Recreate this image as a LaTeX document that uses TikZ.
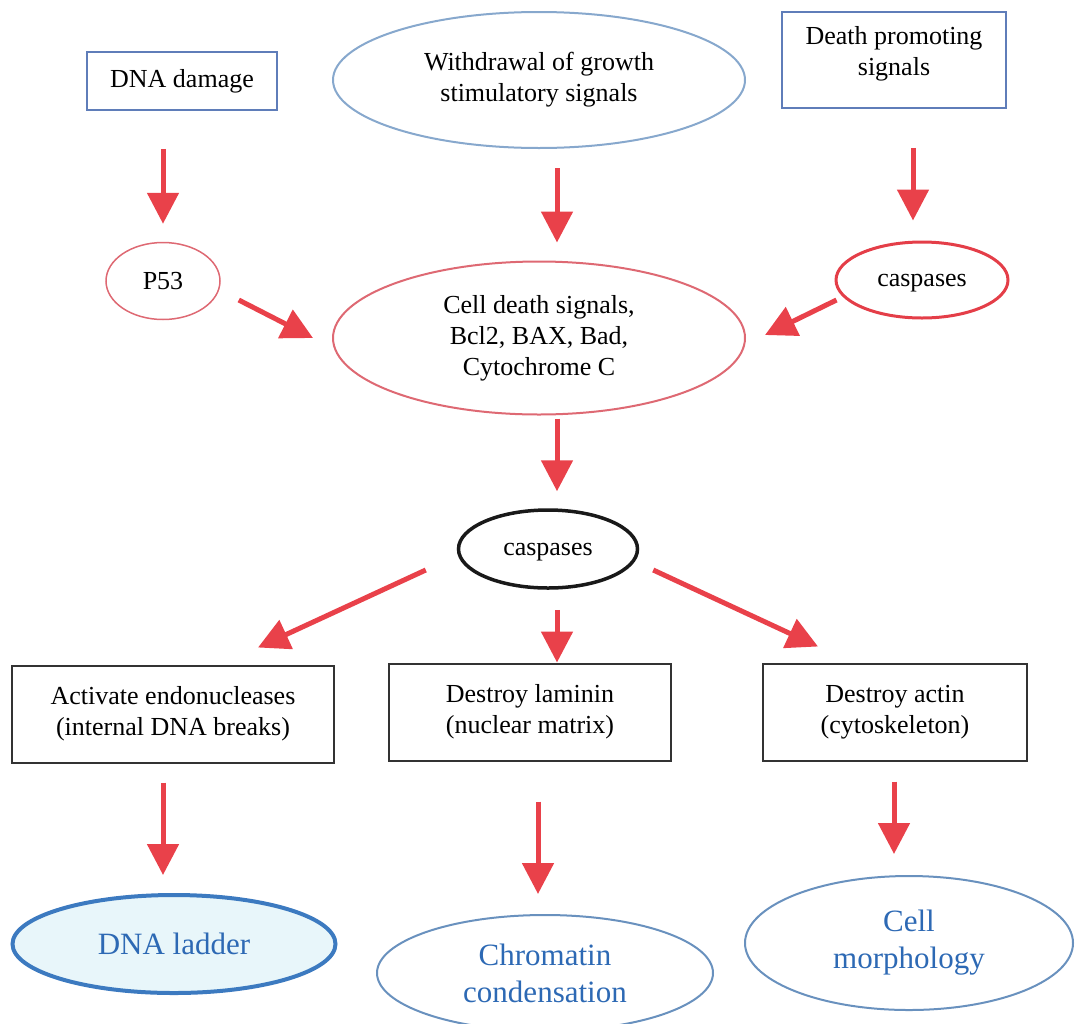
\documentclass[tikz,border=0pt]{standalone}
\usepackage{fontspec}
\setmainfont{Liberation Serif}
\usetikzlibrary{arrows.meta,shapes.geometric}
\definecolor{arrred}{RGB}{233,65,74}
\definecolor{pinkred}{RGB}{222,105,115}
\definecolor{casred}{RGB}{228,62,72}
\definecolor{boxblue}{RGB}{95,125,185}
\definecolor{lightblue}{RGB}{135,168,205}
\definecolor{resblue}{RGB}{105,145,190}
\definecolor{textblue}{RGB}{45,105,180}
\definecolor{ladderfill}{RGB}{232,246,250}
\definecolor{ladderline}{RGB}{60,122,192}
\begin{document}
\begin{tikzpicture}[x=1pt,y=-1pt,
  txt/.style={align=center,font=\fontsize{26}{31}\selectfont,inner sep=0pt},
  res/.style={ellipse,align=center,font=\fontsize{31}{37}\selectfont,text=textblue,inner sep=0pt},
  topbox/.style={txt,draw=boxblue,line width=1.5pt},
  stepbox/.style={txt,draw=black!80,line width=2pt,minimum height=97pt},
  oval/.style={txt,ellipse},
  arr/.style={draw=arrred,line width=5pt,-{Triangle[width=31pt,length=31pt]}}]
\useasboundingbox (0,0) rectangle (1075,1023);
\node[topbox,minimum width=190pt,minimum height=58pt] (dna) at (182,81) {DNA damage};
\node[oval,draw=lightblue,line width=2pt,minimum width=412pt,minimum height=136pt] (wd) at (539,80) {Withdrawal of growth\\stimulatory signals};
\node[topbox,minimum width=224pt,minimum height=96pt] (dps) at (894,60) {Death promoting\\signals\\[-12pt]};
\node[oval,draw=pinkred,line width=1.5pt,minimum width=114pt,minimum height=77pt] (p53) at (163,281) {P53};
\node[oval,draw=casred,line width=3pt,minimum width=172pt,minimum height=76pt,text depth=0pt] (cas1) at (922,280) {caspases};
\node[oval,draw=pinkred,line width=2pt,minimum width=412pt,minimum height=153pt] (cds) at (539,338) {Cell death signals,\\Bcl2, BAX, Bad,\\Cytochrome C};
\node[oval,draw=black!90,line width=3.5pt,minimum width=179pt,minimum height=78pt,text depth=0pt] (cas2) at (548,549) {caspases};
\node[stepbox,minimum width=322pt] (act) at (173,714) {Activate endonucleases\\(internal DNA breaks)};
\node[stepbox,minimum width=282pt] (lam) at (530,712) {Destroy laminin\\(nuclear matrix)};
\node[stepbox,minimum width=264pt] (actin) at (895,712) {Destroy actin\\(cytoskeleton)};
\node[res,draw=ladderline,fill=ladderfill,line width=4pt,minimum width=323pt,minimum height=98pt] (ladder) at (174,944) {DNA ladder};
\node[res,draw=resblue,line width=2pt,minimum width=336pt,minimum height=116pt] (chrom) at (545,973) {Chromatin\\condensation};
\node[res,draw=resblue,line width=2pt,minimum width=328pt,minimum height=134pt] (morph) at (909,943) {Cell\\morphology};
% top row down
\draw[arr,shorten <=38pt,shorten >=18pt] (p53 |- dna.south) -- (p53.north);
\draw[arr,shorten <=19pt,shorten >=18pt] ([xshift=18pt]wd.south) -- ([xshift=18pt]cds.north);
\draw[arr,shorten <=39pt,shorten >=20pt] ([xshift=19pt]dps.south) -- ([xshift=-9pt]cas1.north);
\draw[arr] ([shift={(18pt,-19pt)}]p53.east) -- ([xshift=-19pt]cds.west);
\draw[arr] ([shift={(2pt,-20pt)}]cas1.west) -- ([shift={(19pt,3pt)}]cds.east);
\draw[arr,shorten <=3pt,shorten >=17pt] ([xshift=18pt]cds.south) -- ([xshift=9pt]cas2.north);
% caspases to targets
\draw[arr] ([shift={(-31pt,-21pt)}]cas2.west) -- ([shift={(85pt,17pt)}]act.north);
\draw[arr,shorten <=20pt] ([xshift=9pt]cas2.south) -- ([xshift=27pt]lam.north);
\draw[arr] ([shift={(14pt,-21pt)}]cas2.east) -- ([shift={(-77pt,16pt)}]actin.north);
% results
\draw[arr,shorten <=19pt,shorten >=18pt] ([xshift=-10pt]act.south) -- ([xshift=-11pt]ladder.north);
\draw[arr,shorten <=40pt,shorten >=20pt] ([xshift=8pt]lam.south) -- ([xshift=-7pt]chrom.north);
\draw[arr,shorten <=20pt,shorten >=21pt] ([xshift=-1pt]actin.south) -- ([xshift=-15pt]morph.north);
\end{tikzpicture}
\end{document}
